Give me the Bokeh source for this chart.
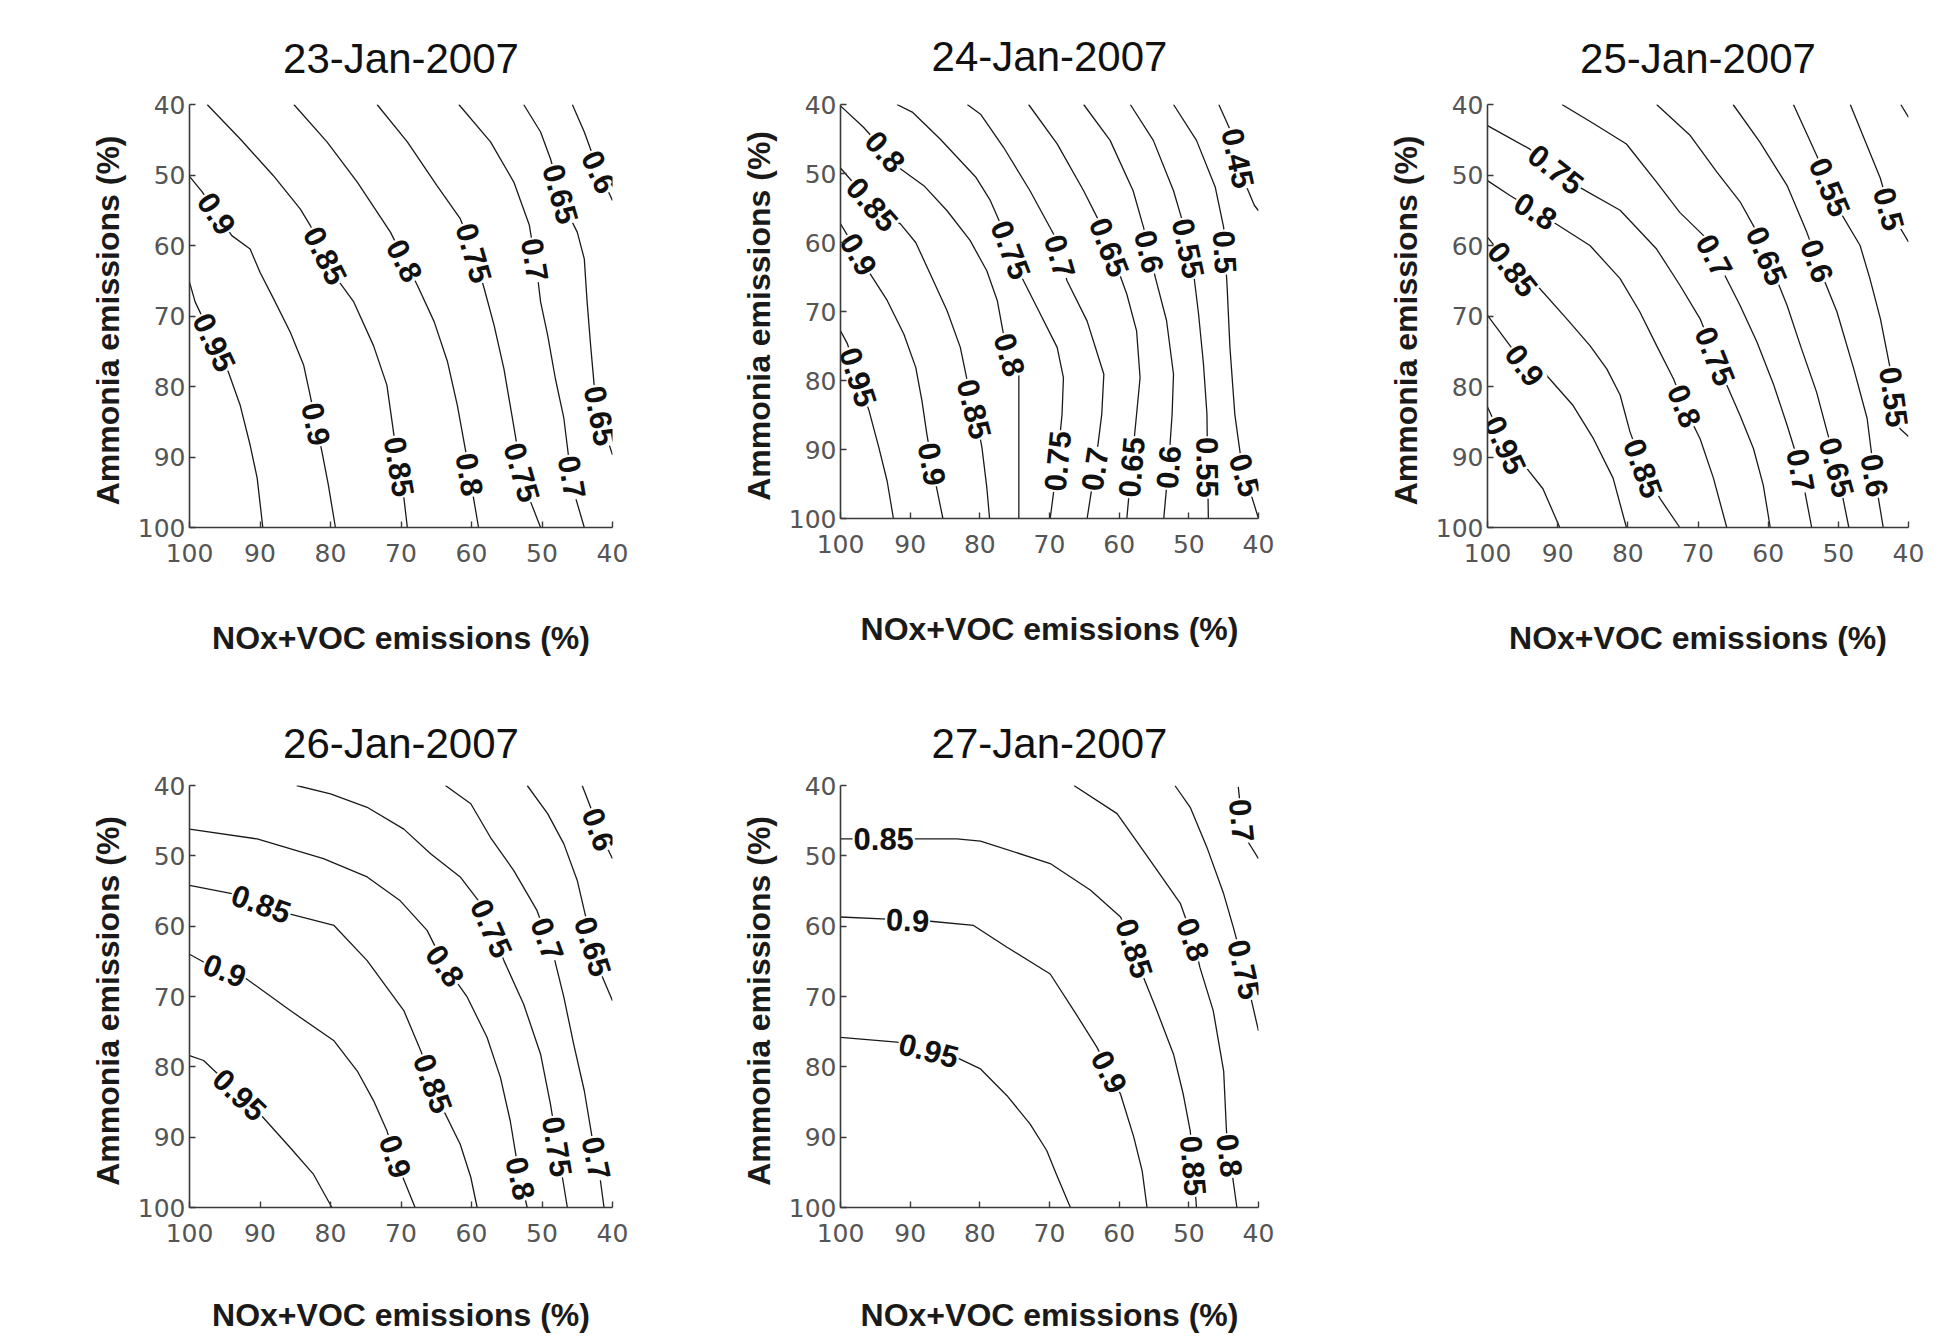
import math
from bokeh.plotting import figure
from bokeh.models import Range1d, FixedTicker, ColumnDataSource
from bokeh.layouts import row, column
from bokeh.core.properties import value
from bokeh.embed import file_html
from bokeh.resources import INLINE

# ---------------- data ----------------
TICKS = [40, 50, 60, 70, 80, 90, 100]
X_LABEL = "NOx+VOC emissions (%)"
Y_LABEL = "Ammonia  emissions (%)"
TITLES = ["23-Jan-2007", "24-Jan-2007", "25-Jan-2007", "26-Jan-2007", "27-Jan-2007"]

# 23-Jan-2007
D23_LEVELS = [0.95, 0.9, 0.85, 0.8, 0.75, 0.7, 0.65, 0.6]
D23_X = [
    [100, 99.2, 94.5, 92.8, 91.4, 90.4, 89.6],
    [100, 98.2, 94.0, 91.4, 90.0, 88.1, 85.7, 83.8, 82.9, 81.9, 81.2, 80.3, 79.3],
    [97.5, 92.8, 88.1, 84.3, 82.9, 79.1, 76.7, 73.9, 72.0, 71.0, 69.8, 69.1],
    [85.2, 80.5, 76.2, 71.5, 69.6, 67.7, 65.3, 63.4, 62.0, 60.8, 59.7, 59.0],
    [73.4, 69.1, 64.9, 61.6, 59.7, 58.2, 56.8, 55.4, 54.2, 53.0, 51.6, 50.2],
    [61.8, 57.3, 54.0, 51.8, 50.7, 50.2, 49.2, 48.1, 46.9, 46.2, 45.2, 44.0],
    [52.6, 50.2, 48.8, 46.9, 45.0, 44.0, 43.6, 43.1, 42.6, 41.7, 40.0],
    [45.7, 44.0, 42.1, 40.0],
]
D23_Y = [
    [65.2, 68.0, 77.9, 82.7, 88.3, 93.0, 100],
    [50.2, 52.4, 58.6, 60.5, 63.8, 67.5, 72.3, 77.0, 81.2, 86.0, 89.3, 94.0, 100],
    [40, 44.9, 50.1, 54.8, 57.1, 64.7, 68.0, 74.2, 79.8, 86.9, 94.0, 100],
    [40, 45.3, 51.0, 58.1, 61.9, 65.6, 70.8, 76.5, 82.7, 89.3, 95.9, 100],
    [40, 45.3, 51.5, 56.2, 60.9, 66.1, 71.3, 77.5, 84.5, 91.6, 96.4, 100],
    [40, 45.3, 51.0, 57.1, 63.8, 68.0, 72.7, 78.9, 84.5, 90.2, 95.9, 100],
    [40, 43.9, 47.7, 54.3, 58.1, 61.9, 68.0, 74.2, 79.8, 84.5, 89.7],
    [40, 43.9, 49.1, 53.6],
]
D23_LAB_LV = [0.95, 0.9, 0.9, 0.85, 0.85, 0.8, 0.8, 0.75, 0.75, 0.7, 0.7, 0.65, 0.65, 0.6]
D23_LAB_X = [96.8, 96.2, 82.8, 80.7, 70.5, 69.8, 61.1, 60.1, 53.3, 51.4, 46.6, 48.1, 42.6, 42.4]
D23_LAB_Y = [73.9, 55.5, 85.5, 61.4, 91.4, 62.3, 92.6, 61.2, 92.3, 62.1, 93.0, 52.9, 84.3, 49.8]

# 24-Jan-2007
D24_LEVELS = [0.95, 0.9, 0.85, 0.8, 0.75, 0.7, 0.65, 0.6, 0.55, 0.5, 0.45]
D24_X = [
    [100, 99.0, 95.9, 94.5, 93.3, 92.4],
    [100, 98.8, 95.9, 93.3, 90.9, 89.2, 88.3, 87.6, 86.6, 85.3],
    [100, 97.6, 94.3, 91.4, 89.2, 87.1, 84.7, 82.8, 81.8, 80.6, 79.7, 79.0, 78.6],
    [100, 96.7, 91.4, 88.0, 84.7, 81.4, 79.0, 77.5, 76.6, 75.6, 74.4, 74.4],
    [91.9, 89.7, 85.7, 80.6, 78.5, 76.6, 74.2, 71.3, 68.9, 68.0, 68.2, 68.9, 69.9],
    [81.8, 79.9, 76.6, 72.8, 69.4, 67.5, 64.6, 62.2, 62.5, 63.4, 64.6],
    [73.0, 68.9, 65.1, 62.7, 60.3, 58.9, 57.5, 57.0, 57.5, 58.2, 58.9],
    [65.1, 61.3, 58.0, 56.5, 54.8, 53.2, 52.2, 52.4, 52.9, 53.6],
    [58.4, 55.1, 52.2, 50.8, 49.3, 48.6, 47.9, 47.4, 47.3, 47.2],
    [52.2, 48.9, 46.2, 45.0, 44.5, 44.1, 43.4, 42.4, 40.0],
    [45.7, 43.6, 42.4, 40.6, 40.0],
]
D24_Y = [
    [72.8, 74.7, 84.4, 89.7, 94.6, 100],
    [57.3, 59.3, 64.3, 68.4, 73.3, 78.1, 83.0, 87.8, 93.6, 100],
    [49.2, 52.0, 55.8, 57.3, 60.0, 64.6, 69.9, 75.2, 80.1, 84.9, 89.7, 95.5, 100],
    [40.2, 43.3, 49.3, 51.8, 55.4, 59.7, 64.1, 68.4, 73.3, 76.7, 78.6, 100],
    [40, 41.1, 45.0, 50.5, 53.9, 58.3, 64.6, 70.4, 75.2, 79.6, 84.9, 92.2, 100],
    [40, 41.4, 46.2, 52.5, 58.8, 65.5, 71.4, 79.1, 84.9, 92.2, 100],
    [40, 45.7, 52.5, 57.3, 63.6, 67.5, 72.8, 79.6, 84.9, 92.2, 100],
    [40, 45.2, 52.5, 57.8, 65.1, 71.3, 79.1, 84.9, 92.2, 100],
    [40, 45.2, 52.5, 57.3, 64.6, 70.4, 77.6, 84.9, 92.6, 100],
    [40, 45.2, 52.0, 57.8, 66.5, 75.2, 84.9, 92.2, 100],
    [40, 44.7, 50.3, 54.6, 55.4],
]
D24_LAB_LV = [0.95, 0.9, 0.9, 0.85, 0.85, 0.8, 0.8, 0.75, 0.75, 0.7, 0.7,
              0.65, 0.65, 0.6, 0.6, 0.55, 0.55, 0.5, 0.5, 0.45]
D24_LAB_X = [97.8, 97.4, 87.3, 95.7, 81.8, 94.0, 76.2, 75.9, 68.7, 69.2, 63.2,
             62.0, 57.9, 56.0, 52.7, 50.3, 47.9, 45.0, 42.2, 43.0]
D24_LAB_Y = [79.6, 61.7, 92.2, 54.7, 84.4, 47.2, 76.4, 61.2, 91.7, 62.2, 92.9,
             60.9, 92.6, 61.4, 92.6, 60.9, 92.6, 61.4, 93.8, 47.8]

# 25-Jan-2007
D25_LEVELS = [0.95, 0.9, 0.85, 0.8, 0.75, 0.7, 0.65, 0.6, 0.55, 0.5, 0.45]
D25_X = [
    [100, 97.5, 94.4, 92.1, 89.7],
    [100, 94.7, 91.6, 87.8, 84.9, 82.1, 80.2],
    [100, 96.3, 93.0, 88.7, 85.4, 83.0, 81.1, 79.7, 77.8, 75.4, 72.6],
    [100, 96.8, 90.6, 85.4, 81.1, 78.3, 75.9, 73.5, 71.6, 69.7, 67.8, 65.9],
    [100, 94.0, 87.3, 81.1, 75.9, 72.6, 69.7, 67.8, 65.9, 64.0, 62.1, 60.7, 59.7],
    [89.4, 84.9, 80.2, 75.9, 72.6, 69.2, 66.4, 64.0, 61.6, 59.2, 57.3, 55.4, 53.8],
    [75.9, 71.1, 67.3, 64.0, 61.6, 59.2, 57.3, 55.4, 53.1, 51.6, 50.2, 48.5],
    [65.0, 61.2, 57.3, 54.5, 52.1, 50.2, 47.8, 45.9, 45.0, 43.6],
    [56.4, 53.1, 49.7, 46.9, 45.5, 44.0, 42.6, 41.9, 41.2, 40.0],
    [48.3, 44.0, 42.8, 40.0],
    [41.1, 40.0],
]
D25_Y = [
    [82.9, 88.3, 91.6, 94.5, 100],
    [69.9, 77.0, 78.4, 82.7, 87.4, 93.0, 100],
    [58.8, 63.5, 65.6, 70.4, 74.2, 77.5, 81.2, 86.4, 91.6, 95.9, 100],
    [50.8, 52.9, 56.7, 60.0, 64.7, 69.4, 74.2, 78.9, 83.6, 87.4, 93.0, 100],
    [43.0, 46.3, 51.5, 55.0, 60.5, 65.6, 70.4, 75.1, 79.8, 84.1, 88.8, 94.0, 100],
    [40, 42.7, 45.6, 51.0, 55.3, 58.6, 63.8, 68.5, 73.7, 79.8, 85.5, 91.6, 100],
    [40, 44.4, 49.6, 53.8, 58.1, 63.8, 68.5, 74.2, 80.8, 86.4, 91.6, 100],
    [40, 45.3, 51.5, 58.1, 64.7, 69.4, 77.5, 84.5, 91.6, 100],
    [40, 47.2, 55.3, 60.0, 64.7, 70.4, 77.5, 82.7, 86.0, 87.1],
    [40, 50.5, 54.8, 59.5],
    [40, 41.8],
]
D25_LAB_LV = [0.95, 0.9, 0.85, 0.85, 0.8, 0.8, 0.75, 0.75, 0.7, 0.7,
              0.65, 0.65, 0.6, 0.6, 0.55, 0.55, 0.5]
D25_LAB_X = [97.5, 94.7, 96.6, 77.8, 93.7, 72.3, 90.6, 68.3, 67.6, 56.4,
             60.0, 50.7, 52.8, 45.9, 50.7, 42.2, 42.8]
D25_LAB_Y = [88.3, 77.0, 63.5, 91.6, 56.0, 82.9, 49.6, 76.0, 61.4, 92.1,
             61.4, 91.6, 62.1, 92.8, 51.5, 81.5, 54.8]

# 26-Jan-2007
D26_LEVELS = [0.95, 0.9, 0.85, 0.8, 0.75, 0.7, 0.65, 0.6]
D26_X = [
    [100, 98.0, 90.0, 85.7, 82.4, 79.8],
    [100, 98.0, 91.9, 85.7, 79.5, 76.2, 73.9, 72.0, 70.1, 68.0],
    [100, 93.8, 85.7, 79.5, 74.8, 69.6, 67.2, 64.4, 61.6, 60.1, 59.2],
    [100, 90.4, 81.0, 74.8, 70.1, 66.3, 63.9, 60.6, 57.8, 55.9, 54.5, 53.5, 52.1],
    [84.8, 80.0, 74.8, 69.6, 65.8, 61.6, 58.7, 56.8, 55.4, 52.6, 50.2, 48.8, 47.8, 46.4],
    [63.7, 60.1, 57.3, 54.0, 50.7, 48.3, 46.9, 45.5, 44.0, 42.9, 41.9, 41.2],
    [52.1, 49.2, 46.9, 45.0, 44.0, 42.9, 41.4, 40.0],
    [44.3, 43.3, 41.7, 40.0],
]
D26_Y = [
    [78.4, 79.1, 86.7, 91.5, 95.3, 100],
    [64.0, 65.1, 67.5, 72.0, 76.3, 80.6, 84.8, 89.1, 94.8, 100],
    [54.2, 55.4, 58.3, 59.9, 64.9, 72.0, 77.7, 85.3, 91.0, 95.7, 100],
    [46.2, 47.6, 50.4, 53.0, 56.4, 60.6, 65.4, 70.1, 75.8, 81.5, 87.7, 93.8, 100],
    [40, 41.2, 43.1, 46.2, 49.7, 53.0, 56.8, 61.1, 64.9, 71.1, 78.2, 85.3, 91.5, 100],
    [40, 42.6, 47.4, 52.1, 57.8, 64.4, 70.1, 76.8, 83.4, 90.0, 94.8, 100],
    [40, 44.0, 48.3, 53.5, 57.8, 62.5, 67.3, 70.6],
    [40, 42.6, 46.9, 50.4],
]
D26_LAB_LV = [0.95, 0.9, 0.9, 0.85, 0.85, 0.8, 0.8, 0.75, 0.75, 0.7, 0.7, 0.65, 0.6]
D26_LAB_X = [93.5, 95.4, 71.3, 90.0, 65.8, 63.7, 53.7, 57.8, 48.8, 49.2, 42.9, 43.1, 42.4]
D26_LAB_Y = [84.6, 67.3, 92.9, 57.3, 82.5, 65.6, 96.0, 60.6, 91.5, 61.8, 93.1, 63.0, 46.4]

# 27-Jan-2007
D27_LEVELS = [0.95, 0.9, 0.85, 0.8, 0.75, 0.7]
D27_X = [
    [100, 91.9, 83.3, 79.9, 76.1, 72.8, 70.4, 69.0, 67.0],
    [100, 93.3, 87.1, 80.9, 76.1, 69.9, 66.5, 63.2, 59.8, 57.9, 56.7, 56.0],
    [100, 89.0, 83.3, 79.9, 69.9, 64.1, 59.8, 57.9, 56.5, 54.6, 52.2, 50.8, 49.8, 49.3, 48.9],
    [66.5, 60.3, 55.5, 51.2, 49.3, 48.4, 46.5, 45.0, 44.6, 44.1, 43.1],
    [52.0, 49.8, 47.4, 45.0, 43.6, 42.2, 41.0, 40.0],
    [42.9, 42.2, 40.0],
]
D27_Y = [
    [75.8, 76.5, 78.7, 80.3, 84.1, 88.1, 91.9, 95.3, 100],
    [58.7, 59.0, 59.3, 59.9, 63.0, 66.8, 72.0, 77.2, 83.9, 90.0, 94.8, 100],
    [47.6, 47.6, 47.6, 47.9, 51.1, 54.9, 58.7, 62.9, 67.3, 72.0, 78.2, 83.9, 89.1, 94.8, 100],
    [40, 44.0, 50.7, 56.8, 62.1, 65.9, 72.0, 80.6, 89.1, 92.9, 100],
    [40, 43.1, 48.8, 55.4, 60.2, 65.4, 70.6, 74.9],
    [40.2, 46.9, 50.4],
]
D27_LAB_LV = [0.95, 0.9, 0.9, 0.85, 0.85, 0.85, 0.8, 0.8, 0.75, 0.7]
D27_LAB_X = [87.6, 90.4, 62.0, 93.8, 58.9, 49.8, 50.0, 44.8, 42.6, 42.4]
D27_LAB_Y = [78.7, 59.9, 81.0, 48.5, 63.5, 94.1, 62.1, 92.7, 66.3, 45.0]

# ---------------- drawing ----------------
LINE_COLOR = "#1a1a1a"
AXIS_COLOR = "#3a3a3a"
TEXT_FONT = "Liberation Sans"


def snap_label(xs, ys, lx, ly, sx, sy):
    """Project a label point onto the polyline (in screen space) and get text angle."""
    best = None
    px, py = -lx * sx, -ly * sy
    for i in range(len(xs) - 1):
        ax, ay = -xs[i] * sx, -ys[i] * sy
        bx, by = -xs[i + 1] * sx, -ys[i + 1] * sy
        dx, dy = bx - ax, by - ay
        l2 = dx * dx + dy * dy
        t = 0.0 if l2 == 0 else max(0.0, min(1.0, ((px - ax) * dx + (py - ay) * dy) / l2))
        qx, qy = ax + t * dx, ay + t * dy
        d = (qx - px) ** 2 + (qy - py) ** 2
        if best is None or d < best[0]:
            best = (d, qx, qy, dx, dy)
    _, qx, qy, dx, dy = best
    ang = math.atan2(dy, dx)
    if ang > math.pi / 2:
        ang -= math.pi
    elif ang <= -math.pi / 2:
        ang += math.pi
    return -qx / sx, -qy / sy, ang


def make_panel(title, levels, xs_list, ys_list, lab_lv, lab_x, lab_y,
               fw, fh, top, right, bottom, xlab_standoff, title_standoff):
    p = figure(frame_width=fw, frame_height=fh,
               x_range=Range1d(100, 40), y_range=Range1d(100, 40),
               output_backend="svg", toolbar_location=None,
               min_border_left=189, min_border_right=right,
               min_border_top=top, min_border_bottom=bottom,
               title=title)
    p.background_fill_color = "white"
    p.border_fill_color = "white"
    p.outline_line_color = None
    p.grid.visible = False

    p.title.text_font = TEXT_FONT
    p.title.text_font_size = "42px"
    p.title.text_font_style = "normal"
    p.title.text_color = "#111111"
    p.title.align = "center"
    p.title.standoff = title_standoff

    for ax in (p.xaxis[0], p.yaxis[0]):
        ax.ticker = FixedTicker(ticks=TICKS)
        ax.axis_line_color = AXIS_COLOR
        ax.axis_line_width = 1.6
        ax.major_tick_line_color = AXIS_COLOR
        ax.major_tick_line_width = 1.4
        ax.major_tick_in = 6
        ax.major_tick_out = 0
        ax.minor_tick_line_color = None
        ax.major_label_text_font = "DejaVu Sans"
        ax.major_label_text_font_size = "25px"
        ax.major_label_text_color = "#555555"
        ax.axis_label_text_font = TEXT_FONT
        ax.axis_label_text_font_size = "32px"
        ax.axis_label_text_font_style = "bold"
        ax.axis_label_text_color = "#1a1a1a"

    p.xaxis.axis_label = X_LABEL
    p.xaxis.major_label_standoff = 16
    p.xaxis.axis_label_standoff = xlab_standoff
    p.yaxis.axis_label = Y_LABEL
    p.yaxis.major_label_standoff = 4
    p.yaxis.axis_label_standoff = 9

    p.multi_line(xs=xs_list, ys=ys_list, line_color=LINE_COLOR, line_width=1.3)

    sx = fw / 60.0
    sy = fh / 60.0
    tx, ty, ta, tt = [], [], [], []
    for lv, lx, ly in zip(lab_lv, lab_x, lab_y):
        k = levels.index(lv)
        qx, qy, ang = snap_label(xs_list[k], ys_list[k], lx, ly, sx, sy)
        tx.append(qx)
        ty.append(qy)
        ta.append(ang)
        tt.append(f"{lv:g}")
    src = ColumnDataSource(dict(x=tx, y=ty, a=ta, t=tt))
    p.text(x="x", y="y", text="t", angle="a", source=src,
           text_font=value(TEXT_FONT), text_font_style="bold",
           text_font_size="31px", text_color="#111111",
           text_align="center", text_baseline="middle",
           background_fill_color="white", padding=1)
    return p


p1 = make_panel(TITLES[0], D23_LEVELS, D23_X, D23_Y, D23_LAB_LV, D23_LAB_X, D23_LAB_Y,
                423, 423, 99, 39, 172, 55, 45)
p2 = make_panel(TITLES[1], D24_LEVELS, D24_X, D24_Y, D24_LAB_LV, D24_LAB_X, D24_LAB_Y,
                418, 414, 104, 40, 176, 55, 50)
p3 = make_panel(TITLES[2], D25_LEVELS, D25_X, D25_Y, D25_LAB_LV, D25_LAB_X, D25_LAB_Y,
                421, 423, 99, 30, 172, 55, 45)
p4 = make_panel(TITLES[3], D26_LEVELS, D26_X, D26_Y, D26_LAB_LV, D26_LAB_X, D26_LAB_Y,
                423, 422, 91, 39, 136, 52, 38)
p5 = make_panel(TITLES[4], D27_LEVELS, D27_X, D27_Y, D27_LAB_LV, D27_LAB_X, D27_LAB_Y,
                418, 422, 91, 40, 136, 52, 38)

layout = column(row(p1, p2, p3), row(p4, p5))

open("out.html", "w").write(file_html(layout, INLINE))
